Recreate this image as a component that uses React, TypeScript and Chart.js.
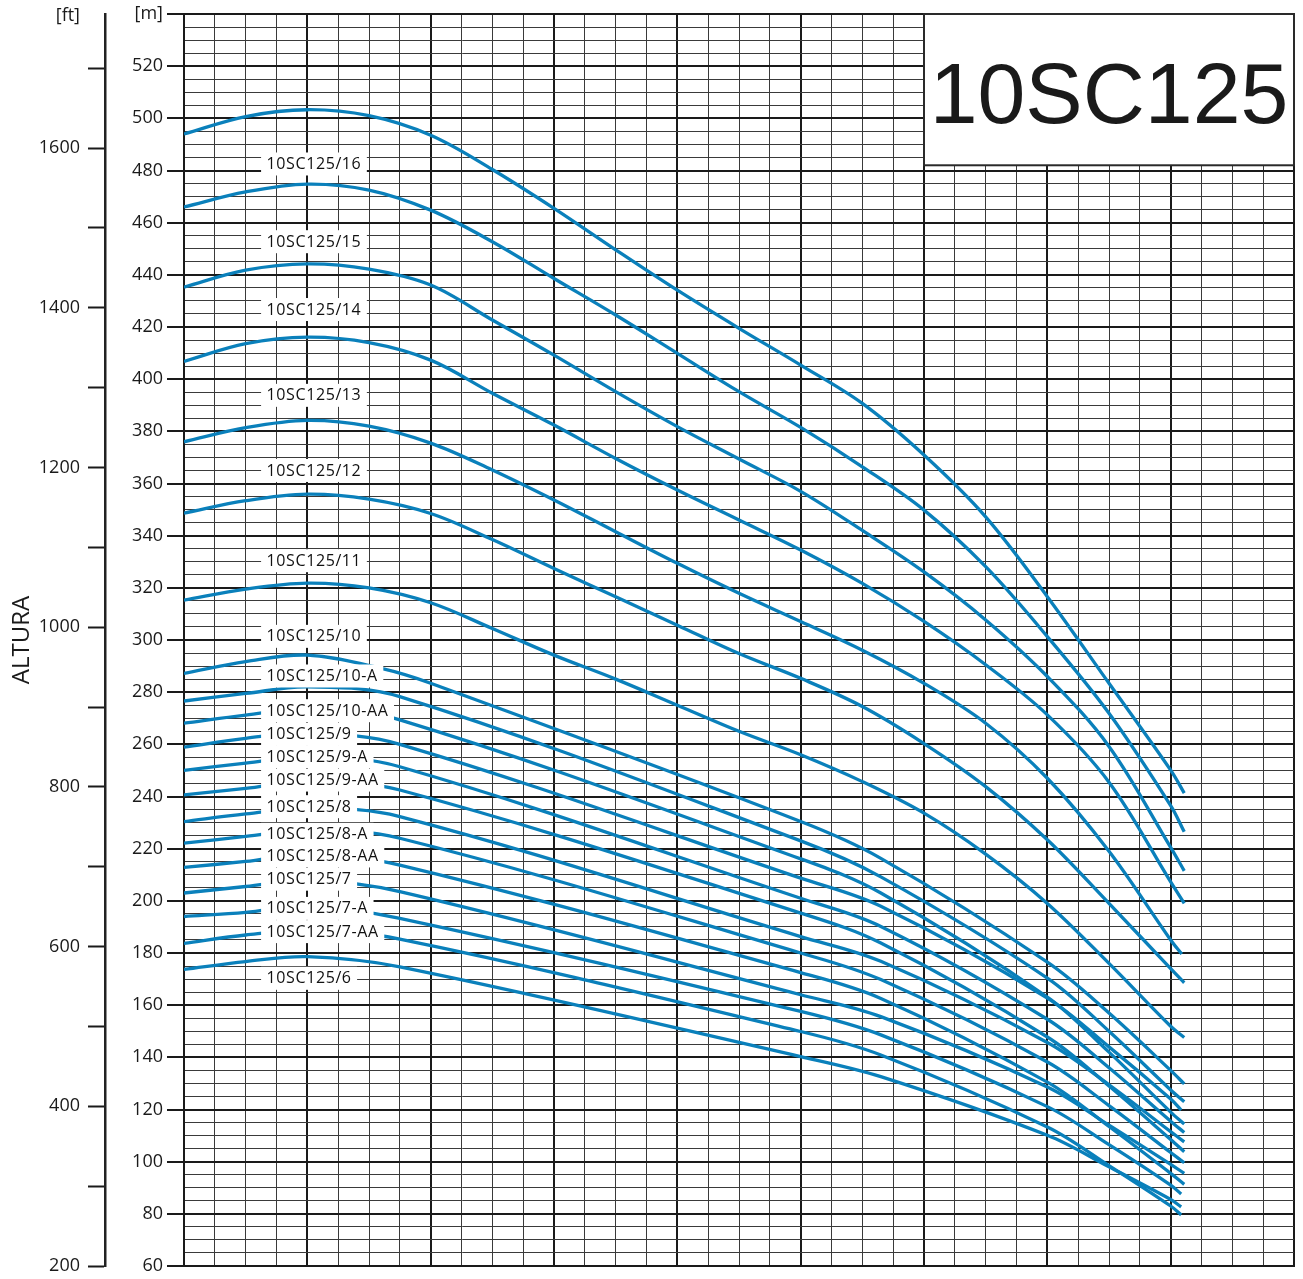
import { useEffect, useRef } from "react";
import { Chart, registerables } from "chart.js";

Chart.register(...registerables);

// Axis ranges
const FLOW_MIN = 0;
const FLOW_MAX = 180;
const FLOW_STEP = 5;
const FLOW_MAJOR = 20;

const HEAD_M_MIN = 60;
const HEAD_M_MAX = 540;
const HEAD_M_STEP = 5;
const HEAD_M_MAJOR = 20;

const HEAD_FT_MIN = 200;
const HEAD_FT_MAX = 1768;
const HEAD_FT_STEP = 100;
const HEAD_FT_LABEL_EVERY = 200;

const MODEL = "10SC125";
const AXIS_TITLE = "ALTURA";
const UNIT_M = "[m]";
const UNIT_FT = "[ft]";

type Pt = [number, number];

// Head curves: [flow, head in m]
const H_TOP: Pt[] = [[0, 494.0], [10, 500.7], [20, 503.3], [30, 501.0], [40, 493.5], [50, 480.4], [60, 465.5], [70, 449.6], [80, 434.1], [90, 419.5], [100, 405.4], [110, 390.7], [120, 370.9], [130, 347.2], [140, 316.6], [150, 283.4], [160, 250.1], [162.2, 241.3]];
const H_16: Pt[] = [[0, 466.0], [10, 471.8], [20, 474.8], [30, 472.5], [40, 464.8], [50, 452.7], [60, 438.6], [70, 424.6], [80, 409.9], [90, 395.2], [100, 381.5], [110, 366.4], [120, 349.8], [130, 328.1], [140, 301.3], [150, 271.9], [160, 236.5], [162.2, 226.5]];
const H_15: Pt[] = [[0, 435.3], [10, 441.8], [20, 444.2], [30, 442.2], [40, 436.1], [50, 422.7], [60, 409.2], [70, 395.2], [80, 381.8], [90, 369.4], [100, 357.0], [110, 342.0], [120, 326.1], [130, 307.7], [140, 286.0], [150, 259.2], [160, 220.5], [162.2, 211.5]];
const H_14: Pt[] = [[0, 406.8], [10, 413.6], [20, 416.1], [30, 414.0], [40, 407.3], [50, 394.6], [60, 382.4], [70, 369.6], [80, 357.5], [90, 346.0], [100, 334.5], [110, 321.7], [120, 307.1], [130, 290.5], [140, 271.3], [150, 245.5], [160, 207.3], [162.2, 199.0]];
const H_13: Pt[] = [[0, 376.0], [10, 381.4], [20, 384.2], [30, 382.0], [40, 375.5], [50, 365.2], [60, 353.7], [70, 341.5], [80, 329.4], [90, 317.9], [100, 307.1], [110, 296.1], [120, 283.4], [130, 268.1], [140, 247.0], [150, 219.0], [160, 185.0], [161.8, 179.6]];
const H_12: Pt[] = [[0, 348.6], [10, 353.4], [20, 355.9], [30, 354.0], [40, 348.5], [50, 338.5], [60, 327.4], [70, 316.6], [80, 305.7], [90, 294.8], [100, 285.3], [110, 274.5], [120, 260.3], [130, 243.8], [140, 223.4], [150, 199.0], [160, 174.0], [162.2, 168.6]];
const H_11: Pt[] = [[0, 315.3], [10, 319.5], [20, 321.8], [30, 320.0], [40, 314.3], [50, 304.4], [60, 294.2], [70, 285.0], [80, 275.0], [90, 265.0], [100, 256.0], [110, 245.7], [120, 233.6], [130, 217.9], [140, 199.0], [150, 176.0], [160, 151.9], [162.2, 147.6]];
const H_10: Pt[] = [[0, 287.2], [10, 291.7], [20, 294.2], [32, 289.1], [40, 283.4], [100, 230.4], [113, 216.3], [140, 176.5], [150, 157.0], [160, 135.0], [162.2, 129.8]];
const H_10A: Pt[] = [[0, 276.6], [10, 279.5], [20, 282.0], [35, 278.3], [100, 223.0], [113, 209.2], [140, 170.4], [150, 150.0], [160, 127.5], [162.2, 123.0]];
const H_10AA: Pt[] = [[0, 268.1], [10, 271.2], [20, 273.5], [35, 269.4], [100, 216.1], [113, 203.0], [140, 163.1], [150, 142.0], [160, 119.0], [162.2, 114.4]];
const H_9: Pt[] = [[0, 258.9], [10, 262.3], [20, 264.3], [35, 260.0], [100, 208.7], [113, 197.9], [140, 162.7], [150, 144.0], [160, 124.0], [161.7, 119.8]];
const H_9A: Pt[] = [[0, 250.0], [10, 252.8], [20, 255.3], [35, 251.4], [100, 201.0], [113, 190.2], [140, 154.6], [150, 136.0], [160, 115.5], [162.2, 111.2]];
const H_9AA: Pt[] = [[0, 240.6], [10, 243.1], [20, 245.8], [35, 242.5], [100, 195.3], [113, 183.8], [140, 147.8], [150, 129.0], [160, 108.5], [162.2, 103.8]];
const H_8: Pt[] = [[0, 230.4], [10, 233.3], [20, 235.6], [35, 232.3], [100, 186.3], [113, 176.8], [140, 145.7], [150, 129.5], [160, 111.5], [162.2, 107.6]];
const H_8A: Pt[] = [[0, 222.1], [10, 224.7], [20, 227.2], [35, 224.0], [100, 180.0], [113, 169.8], [140, 138.2], [150, 121.5], [160, 103.5], [162.2, 99.6]];
const H_8AA: Pt[] = [[0, 212.8], [10, 215.1], [20, 217.8], [35, 213.7], [100, 172.5], [113, 162.6], [140, 130.5], [150, 113.5], [160, 95.5], [162.2, 91.3]];
const H_7: Pt[] = [[0, 203.0], [10, 205.5], [20, 208.0], [35, 203.5], [100, 164.0], [113, 155.6], [140, 128.6], [150, 114.0], [160, 99.0], [162.2, 95.5]];
const H_7A: Pt[] = [[0, 194.0], [10, 195.6], [20, 198.0], [35, 193.3], [100, 157.6], [113, 148.6], [140, 121.1], [150, 106.5], [160, 91.0], [161.7, 87.6]];
const H_7AA: Pt[] = [[0, 183.7], [10, 186.9], [20, 188.6], [35, 185.3], [100, 149.9], [113, 140.9], [140, 113.3], [150, 98.5], [160, 83.0], [161.7, 79.6]];
const H_6: Pt[] = [[0, 173.7], [10, 176.7], [20, 178.6], [35, 174.7], [100, 140.3], [113, 132.6], [140, 110.1], [150, 98.0], [160, 85.5], [161.7, 82.7]];

const CURVES: Pt[][] = [
  H_TOP, H_16, H_15, H_14, H_13, H_12, H_11, H_10, H_10A, H_10AA,
  H_9, H_9A, H_9AA, H_8, H_8A, H_8AA, H_7, H_7A, H_7AA, H_6,
];

// Name printed above each curve (the top curve carries none)
const CURVE_NAMES: string[] = [
  "", "10SC125/16", "10SC125/15", "10SC125/14", "10SC125/13", "10SC125/12", "10SC125/11",
  "10SC125/10", "10SC125/10-A", "10SC125/10-AA", "10SC125/9", "10SC125/9-A", "10SC125/9-AA",
  "10SC125/8", "10SC125/8-A", "10SC125/8-AA", "10SC125/7", "10SC125/7-A", "10SC125/7-AA",
  "10SC125/6",
];

// Where each name tag sits, in chart units
const NAME_TAG_FLOW = 12.5;
const NAME_TAG_HEAD: (number | null)[] = [
  null, 482.5, 452.7, 426.7, 393.8, 365.0, 330.4, 301.4, 286.2, 272.9,
  263.9, 255.3, 246.3, 236.1, 225.5, 217.2, 208.3, 197.1, 188.2, 170.3,
];

// Model box in the upper-right corner, in chart units
const MODEL_BOX_FLOW: [number, number] = [120, 180];
const MODEL_BOX_HEAD: [number, number] = [482, 540];

const CURVE_COLOR = "#0a80bb";
const MAJOR_COLOR = "#1a1a1a";
const MINOR_COLOR = "#3a3a3a";
const TEXT_COLOR = "#1a1a1a";
const FONT_FAMILY = '"Open Sans", "Noto Sans", sans-serif';

const isMajor = (v: number, every: number) => Math.abs(v / every - Math.round(v / every)) < 1e-6;

const overlayPlugin = {
  id: "curveOverlay",
  afterDatasetsDraw(chart: any) {
    const { ctx } = chart;
    const x = chart.scales.x;
    const y = chart.scales.y;
    ctx.save();

    // curve name tags
    ctx.font = `16px ${FONT_FAMILY}`;
    (ctx as any).letterSpacing = "0.6px";
    ctx.textBaseline = "middle";
    ctx.textAlign = "left";
    CURVE_NAMES.forEach((name, i) => {
      const h = NAME_TAG_HEAD[i];
      if (!name || h == null) return;
      const px = x.getPixelForValue(NAME_TAG_FLOW);
      const py = y.getPixelForValue(h);
      const w = ctx.measureText(name).width;
      ctx.fillStyle = "#ffffff";
      ctx.fillRect(px, py - 11.5, w + 11, 23);
      ctx.fillStyle = "#111111";
      ctx.fillText(name, px + 5.5, py + 0.5);
    });

    // model box
    const l = x.getPixelForValue(MODEL_BOX_FLOW[0]);
    const r = x.getPixelForValue(MODEL_BOX_FLOW[1]);
    const t = y.getPixelForValue(MODEL_BOX_HEAD[1]);
    const b = y.getPixelForValue(MODEL_BOX_HEAD[0]);
    ctx.fillStyle = "#ffffff";
    ctx.fillRect(l, t, r - l, b - t);
    ctx.strokeStyle = "#2a2a2a";
    ctx.lineWidth = 2;
    ctx.strokeRect(l, t, r - l, b - t);
    (ctx as any).letterSpacing = "0px";
    ctx.font = '86px "Liberation Sans", Arial, sans-serif';
    ctx.textAlign = "center";
    ctx.textBaseline = "alphabetic";
    ctx.fillStyle = "#1a1a1a";
    ctx.fillText(MODEL, (l + r) / 2, t + 109);
    ctx.restore();
  },
  afterDraw(chart: any) {
    const { ctx } = chart;
    const ft = chart.scales.yFt;
    const top = chart.chartArea.top;
    ctx.save();
    ctx.font = `18px ${FONT_FAMILY}`;
    ctx.fillStyle = TEXT_COLOR;
    ctx.textAlign = "right";
    ctx.textBaseline = "middle";
    ctx.fillText(UNIT_FT, ft.right - 17 - 8, top + 2);
    ctx.restore();
  },
};

export default function App() {
  const ref = useRef<HTMLCanvasElement | null>(null);

  useEffect(() => {
    const canvas = ref.current;
    if (!canvas) return;

    const datasets = CURVES.map((curve, i) => ({
      label: CURVE_NAMES[i],
      data: curve.map(([q, h]) => ({ x: q, y: h })),
      borderColor: CURVE_COLOR,
      borderWidth: 3.3,
      pointRadius: 0,
      fill: false,
      tension: 0.35,
      borderCapStyle: "butt" as const,
      xAxisID: "x",
      yAxisID: "y",
    }));

    const chart = new Chart(canvas, {
      type: "line",
      data: { datasets },
      plugins: [overlayPlugin],
      options: {
        responsive: false,
        animation: false,
        devicePixelRatio: 1,
        layout: { padding: { left: 0, top: 14, right: 9, bottom: 13 } },
        plugins: {
          legend: { display: false },
          tooltip: { enabled: false },
        },
        scales: {
          x: {
            type: "linear",
            min: FLOW_MIN,
            max: FLOW_MAX,
            ticks: { display: false, stepSize: FLOW_STEP },
            grid: {
              drawTicks: false,
              color: (c: any) => (c.tick && isMajor(c.tick.value, FLOW_MAJOR) ? MAJOR_COLOR : MINOR_COLOR),
              lineWidth: (c: any) => (c.tick && isMajor(c.tick.value, FLOW_MAJOR) ? 2 : 1),
            },
            border: { display: true, color: MAJOR_COLOR, width: 2 },
            afterFit: (s: any) => {
              s.height = 0;
              s.paddingLeft = 0;
              s.paddingRight = 0;
            },
          },
          y: {
            type: "linear",
            position: "left",
            weight: 0,
            min: HEAD_M_MIN,
            max: HEAD_M_MAX,
            ticks: {
              stepSize: HEAD_M_STEP,
              autoSkip: false,
              padding: 4,
              color: TEXT_COLOR,
              font: { family: FONT_FAMILY, size: 18 },
              callback: (v: any) => {
                const n = Number(v);
                if (n === HEAD_M_MAX) return UNIT_M;
                return isMajor(n, HEAD_M_MAJOR) ? String(n) : "";
              },
            },
            grid: {
              tickLength: 17,
              tickWidth: 2,
              color: (c: any) => (c.tick && isMajor(c.tick.value, HEAD_M_MAJOR) ? MAJOR_COLOR : MINOR_COLOR),
              lineWidth: (c: any) => (c.tick && isMajor(c.tick.value, HEAD_M_MAJOR) ? 2 : 1),
              tickColor: (c: any) =>
                c.tick && isMajor(c.tick.value, HEAD_M_MAJOR) ? MAJOR_COLOR : "rgba(0,0,0,0)",
            },
            border: { display: true, color: MAJOR_COLOR, width: 2 },
            afterFit: (s: any) => {
              s.width = 79;
              s.paddingTop = 0;
              s.paddingBottom = 0;
            },
          },
          yFt: {
            type: "linear",
            position: "left",
            weight: 1,
            min: HEAD_FT_MIN,
            max: HEAD_FT_MAX,
            ticks: {
              stepSize: HEAD_FT_STEP,
              autoSkip: false,
              includeBounds: false,
              padding: 8,
              color: TEXT_COLOR,
              font: { family: FONT_FAMILY, size: 18 },
              callback: (v: any) => {
                const n = Number(v);
                return isMajor(n, HEAD_FT_LABEL_EVERY) ? String(n) : "";
              },
            },
            grid: {
              drawOnChartArea: false,
              tickLength: 17,
              tickWidth: 2,
              tickColor: MAJOR_COLOR,
            },
            border: { display: true, color: "#222222", width: 2.5 },
            title: {
              display: true,
              text: AXIS_TITLE,
              color: TEXT_COLOR,
              font: { family: FONT_FAMILY, size: 24 },
              padding: { top: 8, bottom: 0 },
            },
            afterFit: (s: any) => {
              s.width = 105;
              s.paddingTop = 0;
              s.paddingBottom = 0;
            },
          },
        },
      },
    } as any);

    return () => chart.destroy();
  }, []);

  return (
    <div
      style={{
        position: "absolute",
        left: 0,
        top: 0,
        width: 1303,
        height: 1279,
        background: "#ffffff",
      }}
    >
      <canvas ref={ref} width={1303} height={1279} style={{ display: "block", width: 1303, height: 1279 }} />
    </div>
  );
}
